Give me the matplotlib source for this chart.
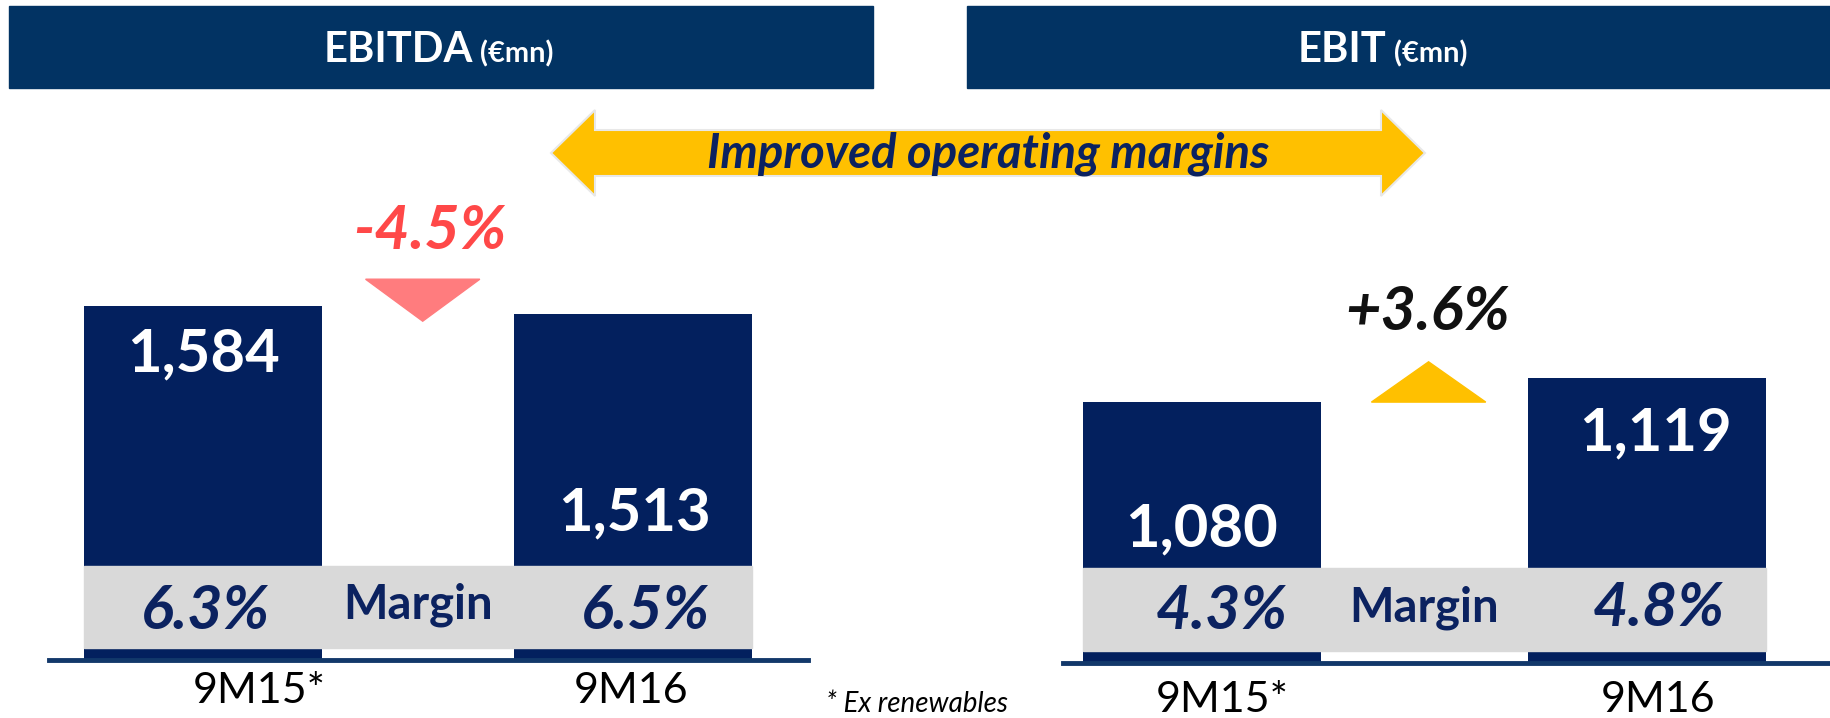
import matplotlib
matplotlib.use("Agg")
import matplotlib.pyplot as plt
from matplotlib.patches import Rectangle, Polygon
import matplotlib.transforms as mtransforms

plt.rcParams['font.family'] = ['Lato', 'DejaVu Sans']

# ---- data ----
categories = ["9M15*", "9M16"]
ebitda_values = [1584, 1513]
ebitda_labels = ["1,584", "1,513"]
ebitda_margins = ["6.3%", "6.5%"]
ebitda_change = "-4.5%"
ebit_values = [1080, 1119]
ebit_labels = ["1,080", "1,119"]
ebit_margins = ["4.3%", "4.8%"]
ebit_change = "+3.6%"
footnote = "* Ex renewables"
banner_text = "Improved operating margins"

NAVY_BAR = "#03205E"
NAVY_HEAD = "#023363"
NAVY_TXT = "#0B2260"
GRAY = "#D9D9D9"
YELLOW = "#FFC000"
RED_TXT = "#FF4848"
RED_TRI = "#FF7C7E"
LINE = "#12386A"

W, H = 1831, 718
fig = plt.figure(figsize=(W / 100, H / 100), dpi=100)

# overlay axes in pixel coordinates for decorations
ov = fig.add_axes([0, 0, 1, 1])
ov.set_xlim(0, W)
ov.set_ylim(H, 0)
ov.axis("off")
ov.set_zorder(0)

# header boxes
ov.add_patch(Rectangle((9, 6), 864, 82, color=NAVY_HEAD))
ov.add_patch(Rectangle((967, 6), 864, 82, color=NAVY_HEAD))
ov.text(473, 50, "EBITDA", color="white", fontsize=30, fontweight="bold", ha="right", va="center")
ov.text(480, 54, "(€mn)", color="white", fontsize=21, fontweight="bold", ha="left", va="center")
ov.text(1386, 50, "EBIT", color="white", fontsize=30, fontweight="bold", ha="right", va="center")
ov.text(1394, 54, "(€mn)", color="white", fontsize=21, fontweight="bold", ha="left", va="center")

# double arrow
xl, xr = 551, 1425
hl = 44
yc = 153
hh, sh = 43, 23
arrow = Polygon([
    (xl, yc), (xl + hl, yc - hh), (xl + hl, yc - sh), (xr - hl, yc - sh), (xr - hl, yc - hh),
    (xr, yc), (xr - hl, yc + hh), (xr - hl, yc + sh), (xl + hl, yc + sh), (xl + hl, yc + hh)
], closed=True, facecolor=YELLOW, edgecolor="#E8E8E8", linewidth=1.5)
ov.add_patch(arrow)
ov.text((xl + xr) / 2, yc + 1, banner_text, color=NAVY_TXT, fontsize=34, fontweight="bold",
        fontstyle="italic", ha="center", va="center")

ov.text(917, 704, footnote, color="black", fontsize=20, fontstyle="italic", ha="center", va="center")


def panel(rect, xlim, ylim, width, values, labels, label_pos, margins, margin_pos,
          change, change_pos, change_color, tri, tri_color, cat_pos):
    ax = fig.add_axes(rect)
    ax.set_zorder(1)
    ax.patch.set_alpha(0)
    x = list(range(len(values)))
    ax.bar(x, [v - ylim[0] for v in values], bottom=ylim[0], width=width, color=NAVY_BAR, zorder=2)
    ax.set_xlim(*xlim)
    ax.set_ylim(*ylim)
    for s in ["top", "right", "left"]:
        ax.spines[s].set_visible(False)
    ax.spines["bottom"].set_color(LINE)
    ax.spines["bottom"].set_linewidth(3.5)
    ax.set_xticks([])
    ax.set_yticks([])
    tr = mtransforms.blended_transform_factory(ax.transData, ax.transAxes)
    # margin band
    ax.add_patch(Rectangle((-width / 2, 0.022), 1 + width, 0.146, transform=tr,
                           color=GRAY, zorder=3))
    for xi, lab, (dx, y) in zip(x, labels, label_pos):
        ax.text(xi + dx, y, lab, transform=tr, color="white", fontsize=43, fontweight="bold",
                ha="center", va="center", zorder=4)
    for xi, m, (dx, y) in zip(x, margins, margin_pos):
        ax.text(xi + dx, y, m, transform=tr, color=NAVY_TXT, fontsize=44, fontweight="bold",
                fontstyle="italic", ha="center", va="center", zorder=4)
    ax.text(0.5, 0.098, "Margin", transform=tr, color=NAVY_TXT, fontsize=34, fontweight="bold",
            ha="center", va="center", zorder=4)
    ax.text(change_pos[0], change_pos[1], change, transform=tr, color=change_color, fontsize=44,
            fontweight="bold", fontstyle="italic", ha="center", va="center")
    ax.add_patch(Polygon(tri, closed=True, transform=tr, color=tri_color, zorder=2))
    for xi, c, (dx, y) in zip(x, categories, cat_pos):
        ax.text(xi + dx, y, c, transform=tr, color="black", fontsize=31,
                ha="center", va="center", clip_on=False)
    return ax


# left panel (EBITDA)
panel([49 / W, 1 - 660 / H, (808 - 49) / W, 560 / H],
      (-0.359, 1.408), (-1557, 3412), 0.554,
      ebitda_values, ebitda_labels, [(0, 0.546), (0.003, 0.261)],
      ebitda_margins, [(0.005, 0.0875), (0.03, 0.0875)],
      ebitda_change, (0.527, 0.766), RED_TXT,
      [(0.378, 0.680), (0.644, 0.680), (0.511, 0.605)], RED_TRI,
      [(0.13, -0.055), (-0.005, -0.055)])

# right panel (EBIT)
panel([1063 / W, 1 - 663 / H, (1828 - 1063) / W, 563 / H],
      (-0.312, 1.407), (667, 1559), 0.535,
      ebit_values, ebit_labels, [(0.0, 0.2375), (0.02, 0.407)],
      ebit_margins, [(0.045, 0.093), (0.026, 0.098)],
      ebit_change, (0.507, 0.624), "#111111",
      [(0.381, 0.4634), (0.638, 0.4634), (0.5095, 0.535)], YELLOW,
      [(0.045, -0.066), (0.026, -0.066)])

fig.savefig("out.png", dpi=100)
